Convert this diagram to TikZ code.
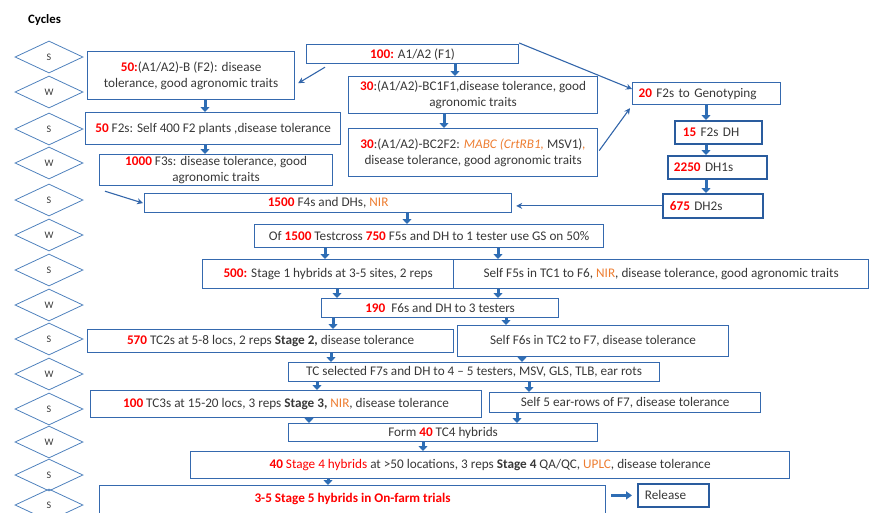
\documentclass[tikz,border=0pt]{standalone}
\usepackage{fontspec}
\setmainfont{Carlito}
\usetikzlibrary{shapes.geometric,arrows.meta}
\definecolor{boxc}{HTML}{3569AE}
\definecolor{boxd}{HTML}{2A5C9E}
\definecolor{diac}{HTML}{4F81BD}
\definecolor{arrc}{HTML}{2E6DB4}
\definecolor{linc}{HTML}{3366AA}
\definecolor{numred}{HTML}{FF0000}
\definecolor{orng}{HTML}{ED7D31}
\definecolor{txt}{HTML}{383838}
\newcommand{\rn}[1]{\textcolor{numred}{\textbf{#1}}}
\newcommand{\og}[1]{\textcolor{orng}{#1}}
\newcommand{\fs}{\fontsize{13.2}{16}\selectfont}
\tikzset{
  box/.style={draw=boxc, line width=1.2pt, inner sep=0pt, anchor=north west, align=center, font=\fs, text=txt},
  tbox/.style={box, draw=boxd, line width=1.8pt},
  lbox/.style={align=left, inner ysep=0pt},
  cyc/.style={diamond, draw=diac, line width=0.8pt, minimum width=68pt, minimum height=32pt, inner sep=0pt, aspect=2, font=\fontsize{10}{11}\selectfont, text=txt},
  blk/.style={draw=arrc, line width=3pt, -{Triangle[width=9pt,length=5pt]}},
  thin/.style={draw=linc, line width=1.1pt, -{Stealth[width=6pt,length=6pt]}},
}
\begin{document}
\begin{tikzpicture}[x=1pt,y=-1pt]
\useasboundingbox (0,0) rectangle (870,512);
\clip (0,0) rectangle (870,512);
% Cycles column
\node[font=\fontsize{12.8}{14}\selectfont\bfseries, text=black, anchor=west, inner sep=0pt] (cycles) at (28,20) {Cycles};
\node[cyc] (c1) at (49,57) {S};
\node[cyc] (c2) at (49,92) {W};
\node[cyc] (c3) at (49,129) {S};
\node[cyc] (c4) at (49,163) {W};
\node[cyc] (c5) at (49,200) {S};
\node[cyc] (c6) at (49,235) {W};
\node[cyc] (c7) at (49,270) {S};
\node[cyc] (c8) at (49,305) {W};
\node[cyc] (c9) at (49,339) {S};
\node[cyc] (c10) at (49,374) {W};
\node[cyc] (c11) at (49,409) {S};
\node[cyc] (c12) at (49,442) {W};
\node[cyc] (c13) at (49,475) {S};
\node[cyc] (c14) at (49,505) {S};
% Boxes
\node[box, minimum width=212pt, minimum height=19pt] (f1) at (306,44) {\rn{100:} A1/A2 (F1)};
\node[box, minimum width=207pt, minimum height=48pt] (b50) at (87,51) {\rn{50:}(A1/A2)-B (F2): disease\\tolerance, good agronomic traits};
\node[box, minimum width=249pt, minimum height=37pt] (bc1) at (348,76) {\rn{30}:(A1/A2)-BC1F1,disease tolerance, good\\agronomic traits};
\node[box, minimum width=249pt, minimum height=48pt] (bc2) at (348,128) {\rn{30}:(A1/A2)-BC2F2: \textcolor{orng}{\textit{MABC (CrtRB1,}} MSV1)\textcolor{orng}{\textit{,}}\\disease tolerance, good agronomic traits};
\node[box, minimum width=255pt, minimum height=32pt] (f2s) at (85,112) {\rn{50} F2s: Self 400 F2 plants ,disease tolerance};
\node[box, minimum width=233pt, minimum height=31pt] (f3) at (99,154) {\rn{1000} F3s: disease tolerance, good\\agronomic traits};
\node[box, minimum width=367pt, minimum height=19pt] (f4) at (144,193) {\rn{1500} F4s and DHs, \og{NIR}};
\node[box, lbox, minimum width=148pt, minimum height=22pt, inner xsep=6pt, text width=136pt] (gen) at (632,82) {\rn{20} F2s to Genotyping};
\node[tbox, lbox, minimum width=87pt, minimum height=23pt, inner xsep=8pt, text width=71pt] (dh) at (674,120) {\rn{15} F2s DH};
\node[tbox, lbox, minimum width=99pt, minimum height=23pt, inner xsep=6pt, text width=87pt] (dh1) at (667,155) {\rn{2250} DH1s};
\node[tbox, lbox, minimum width=100pt, minimum height=24pt, inner xsep=7pt, text width=86pt] (dh2) at (662,193) {\rn{675} DH2s};
\node[box, minimum width=349pt, minimum height=23pt] (tc1) at (254,224) {Of \rn{1500} Testcross \rn{750} F5s and DH to 1 tester use GS on 50\%};
\node[box, minimum width=415pt, minimum height=29pt] (sf5) at (453,259) {Self F5s in TC1 to F6, \og{NIR}, disease tolerance, good agronomic traits};
\node[box, minimum width=251pt, minimum height=29pt] (st1) at (202,259) {\rn{500:} Stage 1 hybrids at 3-5 sites, 2 reps};
\node[box, minimum width=237pt, minimum height=19pt] (f6) at (321,298) {\rn{190}\ \ F6s and DH to 3 testers};
\node[box, minimum width=366pt, minimum height=23pt] (st2) at (87,329) {\rn{570} TC2s at 5-8 locs, 2 reps \textbf{Stage 2,} disease tolerance};
\node[box, minimum width=271pt, minimum height=31pt] (sf6) at (457,325) {Self F6s in TC2 to F7, disease tolerance};
\node[box, minimum width=371pt, minimum height=19pt] (tcs) at (288,362) {TC selected F7s and DH to 4 -- 5 testers, MSV, GLS, TLB, ear rots};
\node[box, minimum width=391pt, minimum height=27pt] (st3) at (90,390) {\rn{100} TC3s at 15-20 locs, 3 reps \textbf{Stage 3,} \og{NIR}, disease tolerance};
\node[box, minimum width=271pt, minimum height=20pt] (se5) at (489,392) {Self 5 ear-rows of F7, disease tolerance};
\node[box, minimum width=309pt, minimum height=18pt] (tc4) at (288,423) {Form \rn{40} TC4 hybrids};
\node[box, minimum width=599pt, minimum height=27pt] (st4) at (190,451) {\rn{40} \textcolor{numred}{Stage 4 hybrids} at >50 locations, 3 reps \textbf{Stage 4} QA/QC, \og{UPLC}, disease tolerance};
\node[box, minimum width=506pt, minimum height=46pt, text depth=22pt] (st5) at (99,485) {\textcolor{numred}{\textbf{3-5 Stage 5 hybrids in On-farm trials}}};
\node[tbox, lbox, minimum width=71pt, minimum height=23pt, inner xsep=7pt, text width=57pt] (rel) at (637,483) {Release};
% Thick block arrows
\draw[blk] (b50.south -| 205,0) -- (f2s.north -| 205,0);
\draw[blk] (f2s.south -| 205,0) -- (f3.north -| 205,0);
\draw[blk] (f1.south -| 455,0) -- (bc1.north -| 455,0);
\draw[blk] (bc1.south -| 444,0) -- (bc2.north -| 444,0);
\draw[blk] (gen.south -| 706,0) -- (dh.north -| 706,0);
\draw[blk] (dh.south -| 706,0) -- (dh1.north -| 706,0);
\draw[blk] (dh1.south -| 706,0) -- (dh2.north -| 706,0);
\draw[blk] (f4.south -| 407,0) -- (tc1.north -| 407,0);
\draw[blk] (tc1.south -| 325,0) -- (st1.north -| 325,0);
\draw[blk] (tc1.south -| 498,0) -- (sf5.north -| 498,0);
\draw[blk] (st1.south -| 337,0) -- (f6.north -| 337,0);
\draw[blk] (sf5.south -| 498,0) -- (f6.north -| 498,0);
\draw[blk] (f6.south -| 333,0) -- (st2.north -| 333,0);
\draw[blk] (f6.south -| 506,0) -- (sf6.north -| 506,0);
\draw[blk] (st2.south -| 331,0) -- (tcs.north -| 331,0);
\draw[blk] (sf6.south -| 522,0) -- (tcs.north -| 522,0);
\draw[blk] (tcs.south -| 317,0) -- (st3.north -| 317,0);
\draw[blk] (tcs.south -| 529,0) -- (se5.north -| 529,0);
\draw[blk] (st3.south -| 309,0) -- (tc4.north -| 309,0);
\draw[blk] (se5.south -| 517,0) -- (tc4.north -| 517,0);
\draw[blk] (tc4.south -| 423,0) -- (st4.north -| 423,0);
\draw[blk] (st4.south -| 328,0) -- (st5.north -| 328,0);
\draw[draw=arrc, line width=2.6pt, -{Triangle[width=8pt,length=6pt]}] ([xshift=5pt]st5.east |- rel.west) -- ([xshift=-5pt]rel.west);
% Thin diagonal connectors
\draw[thin] ([shift={(19,3)}]f1.south west) -- ([shift={(3,-17)}]b50.south east);
\draw[thin] ([yshift=1]f1.north east) -- ([yshift=-7]gen.north west);
\draw[thin] ([shift={(1,-2)}]bc2.east) -- ([shift={(-2,3)}]gen.south west);
\draw[thin] ([shift={(6,5)}]f3.south west) -- ([xshift=-1]f4.west);
\draw[thin] (dh2.west) -- ([xshift=4]f4.east |- dh2.west);
\end{tikzpicture}
\end{document}
